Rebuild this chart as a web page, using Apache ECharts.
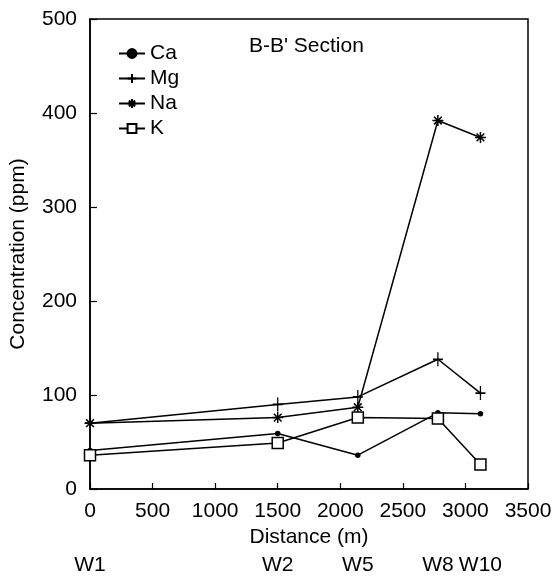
<!DOCTYPE html>
<html>
<head>
<meta charset="utf-8">
<script src="https://cdn.jsdelivr.net/npm/echarts@6/dist/echarts.min.js"></script>
<style>html,body{margin:0;padding:0;background:#fff}#c{width:558px;height:576px}</style>
</head>
<body>
<div id="c"></div>
<script>
var distances = [0, 1500, 2140, 2780, 3120];
var wellNames = ['W1', 'W2', 'W5', 'W8', 'W10'];
var ca = [41, 59, 36, 81, 80];
var mg = [70, 90, 98, 138, 102];
var na = [70, 76, 87, 392, 374];
var k  = [36, 49, 76, 75, 26];

var FONT = '"Liberation Sans", Arial, Helvetica, sans-serif';
function pts(vals) { return distances.map(function (d, i) { return [d, vals[i]]; }); }

var chart = echarts.init(document.getElementById('c'));
var lineStyle = { color: '#000', width: 1.5 };
var plusPath = 'path://M5 0 L5 14 M0 7 L10 7';
var starPath = 'path://M5 0 L5 10 M0 5 L10 5 M1.5 1.5 L8.5 8.5 M8.5 1.5 L1.5 8.5';

function series(name, vals, symbol, size, fill) {
  return {
    name: name, type: 'line', data: pts(vals),
    symbol: symbol, symbolSize: size, showAllSymbol: true,
    lineStyle: lineStyle,
    itemStyle: { color: fill, borderColor: '#000', borderWidth: 1.5 },
    emphasis: { disabled: true },
    animation: false
  };
}

chart.setOption({
  animation: false,
  backgroundColor: '#fff',
  title: {
    text: "B-B' Section", left: 244, top: 31,
    textStyle: { fontFamily: FONT, fontSize: 21, fontWeight: 'normal', color: '#000' }
  },
  legend: {
    orient: 'vertical', left: 113, top: 38, itemGap: 4,
    itemWidth: 26, itemHeight: 11,
    textStyle: { fontFamily: FONT, fontSize: 21, color: '#000' },
    data: ['Ca', 'Mg', 'Na', 'K']
  },
  grid: {
    left: 90, right: 30, top: 19, bottom: 80,
    show: true, borderColor: '#000', borderWidth: 1.5, backgroundColor: 'transparent'
  },
  xAxis: [{
    type: 'value', min: 0, max: 3500, interval: 500,
    name: 'Distance (m)', nameLocation: 'middle', nameGap: 38,
    nameTextStyle: { fontFamily: FONT, fontSize: 21, color: '#000' },
    axisLine: { lineStyle: { color: '#000', width: 1.5 } },
    axisTick: { inside: true, length: 6, lineStyle: { color: '#000', width: 1.2 } },
    axisLabel: { fontFamily: FONT, fontSize: 21, color: '#000', margin: 12,
      formatter: function (v) { return String(v); } },
    splitLine: { show: false }
  }, {
    type: 'value', min: 0, max: 3500, position: 'bottom', offset: 58,
    axisLine: { show: false }, axisTick: { show: false }, splitLine: { show: false },
    axisLabel: {
      customValues: distances,
      fontFamily: FONT, fontSize: 21, color: '#000',
      formatter: function (v) { var i = distances.indexOf(v); return i >= 0 ? wellNames[i] : ''; }
    }
  }],
  yAxis: {
    type: 'value', min: 0, max: 500, interval: 100,
    name: 'Concentration (ppm)', nameLocation: 'middle', nameGap: 61,
    nameTextStyle: { fontFamily: FONT, fontSize: 21, color: '#000' },
    axisLine: { show: true, lineStyle: { color: '#000', width: 1.5 } },
    axisTick: { show: true, inside: true, length: 7, lineStyle: { color: '#000', width: 1.2 } },
    axisLabel: { fontFamily: FONT, fontSize: 21, color: '#000', margin: 13 },
    splitLine: { show: false }
  },
  series: [
    series('Ca', ca, 'circle', 4, '#000'),
    series('Mg', mg, plusPath, [10, 14], '#000'),
    series('Na', na, starPath, 11, '#000'),
    series('K', k, 'rect', 11, '#fff')
  ]
});
</script>
</body>
</html>
